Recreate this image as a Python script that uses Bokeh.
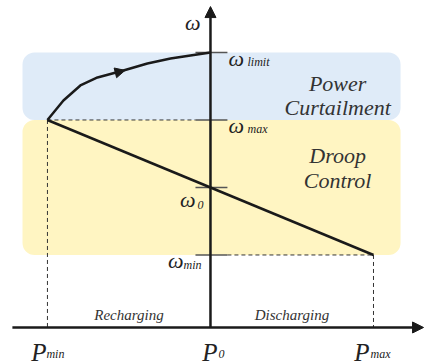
from bokeh.plotting import figure
from bokeh.models import Range1d, Arrow, NormalHead
from bokeh.core.properties import value
from bokeh.embed import file_html
from bokeh.resources import INLINE

# ---- data (abstract units) ----
P_min, P_0, P_max = -1.0, 0.0, 1.0
omega_min, omega_0, omega_max, omega_limit = -1.0, 0.0, 1.0, 2.0
axis_omega = -2.074          # level of the P axis
P_axis_start, P_axis_end = -1.215, 1.307
omega_axis_end = 2.68
tick_left, tick_right = -0.092, 0.104
box_left, box_right = -1.153, 1.166

# power-curtailment trajectory
curve_P = [-1.0, -0.902, -0.798, -0.693, -0.534, -0.387, -0.245, -0.123, 0.0]
curve_omega = [1.0, 1.289, 1.511, 1.630, 1.733, 1.837, 1.911, 1.956, 2.0]

FONT = value("Liberation Serif")
INK = "#1a1a1a"

p = figure(width=425, height=361, output_backend="svg", toolbar_location=None,
           x_range=Range1d(-1.288, 1.319), y_range=Range1d(-2.578, 2.770),
           min_border=0, outline_line_color=None)
p.axis.visible = False
p.grid.visible = False

# regions
p.quad(left=[box_left], right=[box_right], bottom=[omega_max], top=[omega_limit],
       fill_color="#dfebf8", line_color=None, border_radius=12)
p.quad(left=[box_left], right=[box_right], bottom=[omega_min], top=[omega_max],
       fill_color="#fff5c2", line_color=None, border_radius=12)

# dashed guides
dash = dict(line_color="#333333", line_width=1, line_dash="4 3")
p.segment(x0=[P_min, P_min, tick_right, P_max],
          y0=[omega_max, omega_max, omega_min, omega_min],
          x1=[tick_left, P_min, P_max, P_max],
          y1=[omega_max, axis_omega, omega_min, axis_omega], **dash)

# ticks on omega axis
p.segment(x0=[tick_left] * 4, x1=[tick_right] * 4,
          y0=[omega_limit, omega_max, omega_0, omega_min],
          y1=[omega_limit, omega_max, omega_0, omega_min],
          line_color="#555555", line_width=1.3)

# droop line
p.line([P_min, P_max], [omega_max, omega_min], line_color=INK, line_width=2.5)
# curtailment curve
p.line(curve_P, curve_omega, line_color=INK, line_width=2.5)
p.add_layout(Arrow(end=NormalHead(size=10, fill_color=INK, line_color=INK),
                   x_start=curve_P[3], y_start=curve_omega[3],
                   x_end=curve_P[4] + 0.01, y_end=curve_omega[4] + 0.002,
                   line_alpha=0, line_width=0))

# axes with arrows
p.add_layout(Arrow(end=NormalHead(size=11, fill_color=INK, line_color=INK),
                   x_start=P_axis_start, y_start=axis_omega,
                   x_end=P_axis_end, y_end=axis_omega,
                   line_color=INK, line_width=2.5))
p.add_layout(Arrow(end=NormalHead(size=11, fill_color=INK, line_color=INK),
                   x_start=P_0, y_start=axis_omega,
                   x_end=P_0, y_end=omega_axis_end,
                   line_color=INK, line_width=2.5))

def lab(x, y, t, size, xo=0, yo=0, align="left", color="#222222"):
    p.text(x=[x], y=[y], text=[t], x_offset=xo, y_offset=yo,
           text_font=FONT, text_font_style="italic", text_font_size=f"{size}px",
           text_align=align, text_baseline="alphabetic", text_color=color)

# omega labels
lab(P_0, omega_axis_end, "ω", 22, xo=-10, yo=16, align="right")
lab(P_0, omega_limit, "ω", 22, xo=18, yo=6)
lab(P_0, omega_limit, "limit", 12, xo=37, yo=10)
lab(P_0, omega_max, "ω", 22, xo=18, yo=6)
lab(P_0, omega_max, "max", 12, xo=37, yo=9)
lab(P_0, omega_0, "ω", 22, xo=-15, yo=12, align="right")
lab(P_0, omega_0, "0", 12, xo=-13, yo=18)
lab(P_0, omega_min, "ω", 22, xo=-27, yo=6, align="right")
lab(P_0, omega_min, "min", 12, xo=-27, yo=10)

# P labels
lab(P_min, axis_omega, "P", 25, xo=-1, yo=25, align="right")
lab(P_min, axis_omega, "min", 12, xo=-1, yo=27)
lab(P_0, axis_omega, "P", 25, xo=7, yo=25, align="right")
lab(P_0, axis_omega, "0", 12, xo=8, yo=27)
lab(P_max, axis_omega, "P", 25, xo=-4, yo=25, align="right")
lab(P_max, axis_omega, "max", 12, xo=-3, yo=27)

# region labels
region_x = 0.78
lab(region_x, 1.5, "Power", 22, yo=-3, align="center", color="#333333")
lab(region_x, 1.5, "Curtailment", 22, yo=21, align="center", color="#333333")
lab(region_x, omega_0, "Droop", 22, yo=-32, align="center", color="#333333")
lab(region_x, omega_0, "Control", 22, yo=-7, align="center", color="#333333")
lab(-0.5, axis_omega, "Recharging", 15, yo=-12, align="center", color="#333333")
lab(0.5, axis_omega, "Discharging", 15, yo=-12, align="center", color="#333333")

open("out.html", "w").write(file_html(p, INLINE))
